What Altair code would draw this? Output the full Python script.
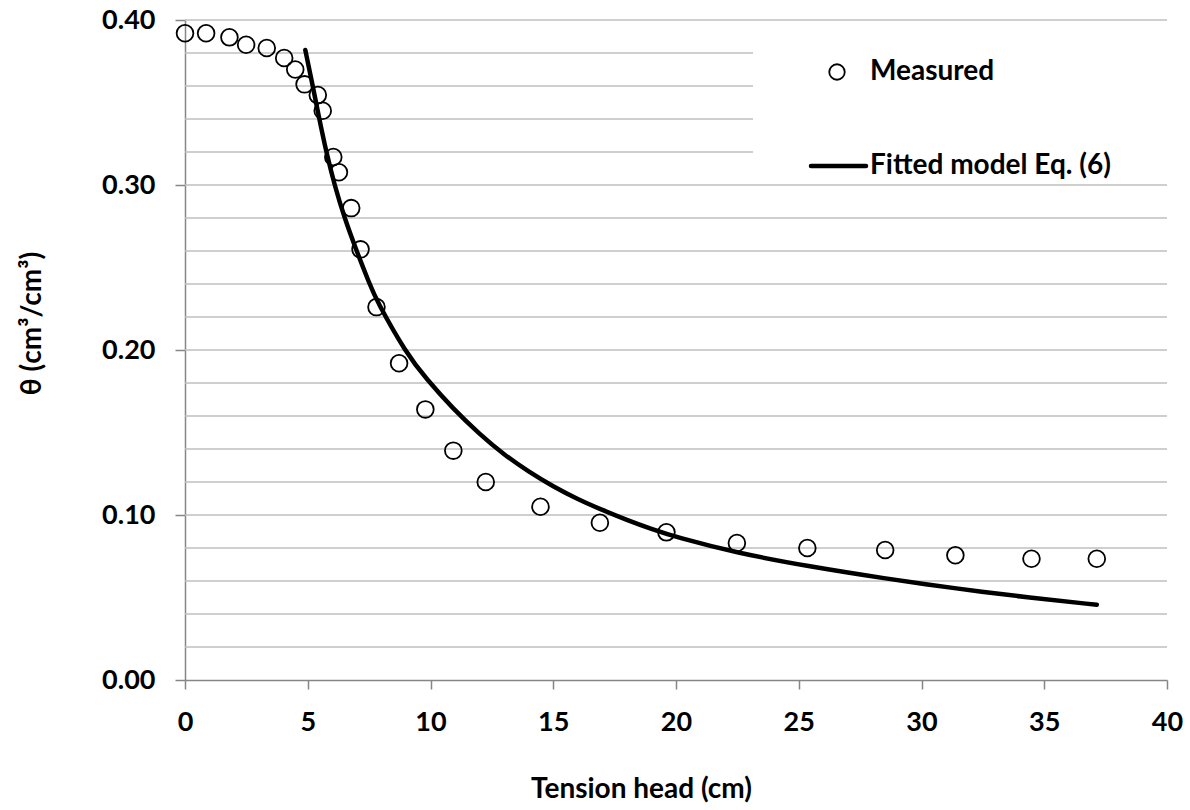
import altair as alt
import pandas as pd

# Measured points (tension head in cm, theta in cm3/cm3)
tension_measured = [0.0, 0.86, 1.81, 2.49, 3.33, 4.04, 4.49, 4.87, 5.41, 5.61, 6.04, 6.27,
                    6.77, 7.15, 7.80, 8.72, 9.79, 10.93, 12.25, 14.48, 16.90, 19.61,
                    22.48, 25.35, 28.52, 31.38, 34.48, 37.14]
theta_measured = [0.392, 0.392, 0.3895, 0.385, 0.383, 0.377, 0.370, 0.361, 0.3545, 0.345,
                  0.317, 0.3077, 0.286, 0.261, 0.226, 0.192, 0.164, 0.139, 0.120, 0.105,
                  0.0953, 0.0895, 0.083, 0.080, 0.0788, 0.0756, 0.0735, 0.0735]

# Fitted model curve
tension_fit = [4.90, 5.21, 5.45, 5.75, 6.09, 6.50, 7.00, 7.52, 7.79, 9.01, 9.83, 10.91,
               12.00, 13.00, 14.00, 15.00, 16.00, 17.00, 18.00, 19.00, 20.00, 22.48,
               25.35, 28.52, 31.38, 34.48, 37.14]
theta_fit = [0.3818, 0.3596, 0.3415, 0.3202, 0.300, 0.2798, 0.2596, 0.2400, 0.2303, 0.198,
             0.1825, 0.1645, 0.1490, 0.1365, 0.1262, 0.1172, 0.1095, 0.1030, 0.0970,
             0.0915, 0.0866, 0.0770, 0.0690, 0.0615, 0.0555, 0.0497, 0.0456]

x_ticks = [0, 5, 10, 15, 20, 25, 30, 35, 40]
y_ticks = [0.0, 0.1, 0.2, 0.3, 0.4]
grid_levels = [0.02, 0.04, 0.06, 0.08, 0.10, 0.12, 0.14, 0.16, 0.18, 0.20,
               0.22, 0.24, 0.26, 0.28, 0.30, 0.32, 0.34, 0.36, 0.38, 0.40]

legend_labels = ["Measured", "Fitted model Eq. (6)"]

FONT = "Lato"
LFS = 27   # tick labels
TFS = 28   # titles / legend
W, H = 982, 660

measured = pd.DataFrame({"h": tension_measured, "theta": theta_measured})
fit = pd.DataFrame({"h": tension_fit, "theta": theta_fit})
grid = pd.DataFrame({"h": [0.0] * len(grid_levels), "theta": grid_levels})

xscale = alt.Scale(domain=[0, 40], nice=False, zero=False)
yscale = alt.Scale(domain=[0, 0.4], nice=False)

xaxis = alt.Axis(values=x_ticks, format="d", grid=False, labelFlush=False,
                 domainColor="#868686", domainWidth=1.5,
                 tickColor="#868686", tickWidth=1.5, tickSize=9,
                 labelFont=FONT, labelFontSize=LFS, labelFontWeight="bold",
                 labelColor="black", labelPadding=20,
                 title="Tension head (cm)", titleFont=FONT, titleFontSize=TFS,
                 titleFontWeight="bold", titleColor="black",
                 titleX=456, titleY=109, titleBaseline="middle", titleAlign="center")
yaxis = alt.Axis(values=y_ticks, format=".2f", grid=False, labelFlush=False,
                 domainColor="#868686", domainWidth=1.5,
                 tickColor="#868686", tickWidth=1.5, tickSize=10,
                 labelFont=FONT, labelFontSize=LFS, labelFontWeight="bold",
                 labelColor="black", labelPadding=20,
                 title="θ (cm³/cm³)", titleFont=FONT, titleFontSize=TFS,
                 titleFontWeight="bold", titleColor="black",
                 titleX=-153, titleY=303, titleBaseline="middle", titleAlign="center",
                 titleAngle=270)

X = alt.X("h:Q", scale=xscale, axis=xaxis)
Y = alt.Y("theta:Q", scale=yscale, axis=yaxis)

gridlines = alt.Chart(grid).mark_rule(color="#bfbfbf", strokeWidth=1.5).encode(y=Y)

legend_bg = alt.Chart(pd.DataFrame({"k": [0]})).mark_rect(color="white").encode(
    x=alt.value(568), x2=alt.value(982), y=alt.value(4), y2=alt.value(163)
)

points = alt.Chart(measured).mark_point(
    shape="circle", filled=False, color="black", strokeWidth=1.8, size=280, opacity=1
).encode(x=X, y=Y)

line = alt.Chart(fit).mark_line(
    color="black", strokeWidth=4.5, strokeCap="round", interpolate="basis"
).encode(x=X, y=Y)

leg_pt = alt.Chart(pd.DataFrame({"label": [legend_labels[0]]})).mark_point(
    shape="circle", filled=False, color="black", strokeWidth=1.8, size=240, opacity=1
).encode(x=alt.value(652), y=alt.value(52))

leg_line = alt.Chart(pd.DataFrame({"label": [legend_labels[1]]})).mark_rule(
    color="black", strokeWidth=4.5, strokeCap="round"
).encode(x=alt.value(626), x2=alt.value(681), y=alt.value(146))

leg_text1 = alt.Chart(pd.DataFrame({"label": [legend_labels[0]]})).mark_text(
    align="left", baseline="middle", font=FONT, fontSize=TFS, fontWeight="bold", color="black"
).encode(x=alt.value(685), y=alt.value(52), text="label:N")

leg_text2 = alt.Chart(pd.DataFrame({"label": [legend_labels[1]]})).mark_text(
    align="left", baseline="middle", font=FONT, fontSize=TFS, fontWeight="bold", color="black"
).encode(x=alt.value(685), y=alt.value(146), text="label:N")

chart = alt.layer(
    gridlines, legend_bg, points, line, leg_pt, leg_line, leg_text1, leg_text2
).properties(
    width=W, height=H,
    autosize=alt.AutoSizeParams(type="none"),
    padding={"left": 185, "top": 20, "right": 23, "bottom": 130},
    background="white",
).configure_view(stroke=None)

chart.save("out.html", embed_options={"renderer": "svg", "actions": False})
